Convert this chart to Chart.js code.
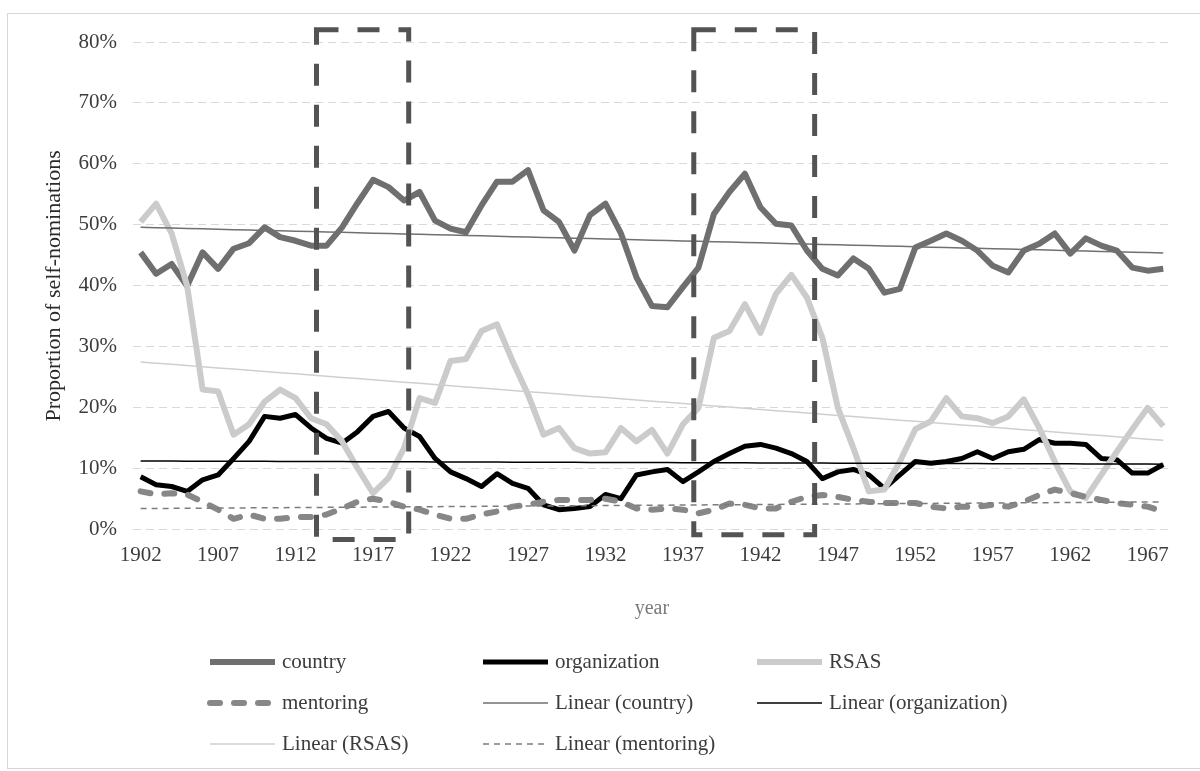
<!DOCTYPE html>
<html>
<head>
<meta charset="utf-8">
<title>Self-nominations by year</title>
<script src="https://cdn.jsdelivr.net/npm/chart.js@4.4.1/dist/chart.umd.min.js"></script>
<style>
    body { margin: 0; background: #fff; }
    #wrap { position: relative; width: 1200px; height: 771px; overflow: hidden; }
    #frame { position: absolute; left: 7px; top: 13px; width: 1210px; height: 754px; border: 1px solid #d6d6d6; }
    #chart { position: absolute; left: 0; top: 0; }
</style>
</head>
<body>
<div id="wrap">
    <div id="frame"></div>
    <canvas id="chart" width="1200" height="771"></canvas>
</div>
<script>
// years 1902 .. 1968
const years = [];
for (let y = 1902; y <= 1968; y++) years.push(String(y));

// share of self-nominations, in percent
const country = [
    45.5, 42.0, 43.6, 40.0, 45.5, 42.8, 46.1, 47.0, 49.6, 48.0,
    47.4, 46.6, 46.6, 49.6, 53.6, 57.4, 56.2, 54.0, 55.4, 50.7,
    49.4, 48.8, 53.2, 57.1, 57.1, 59.0, 52.4, 50.5, 45.8, 51.6,
    53.5, 48.6, 41.4, 36.7, 36.5, 39.8, 43.0, 51.8, 55.4, 58.4,
    52.9, 50.2, 49.9, 45.8, 42.8, 41.7, 44.5, 42.8, 38.9, 39.5,
    46.3, 47.4, 48.6, 47.4, 45.8, 43.3, 42.2, 45.8, 46.9, 48.6,
    45.3, 47.8, 46.6, 45.8, 43.0, 42.5, 42.8
];
const organization = [
    8.7, 7.4, 7.1, 6.3, 8.2, 9.0, 11.7, 14.5, 18.6, 18.3,
    18.9, 16.7, 15.0, 14.2, 16.1, 18.6, 19.4, 16.7, 15.3, 11.7,
    9.5, 8.4, 7.1, 9.2, 7.6, 6.8, 4.1, 3.3, 3.5, 3.8,
    5.8, 5.1, 9.0, 9.5, 9.9, 7.9, 9.5, 11.2, 12.5, 13.7,
    14.0, 13.4, 12.5, 11.2, 8.4, 9.5, 9.9, 9.0, 6.8, 9.0,
    11.2, 10.9, 11.2, 11.7, 12.8, 11.7, 12.8, 13.2, 14.8, 14.2,
    14.2, 14.0, 11.7, 11.5, 9.3, 9.3, 10.7
];
const rsas = [
    50.5, 53.5, 48.6, 40.0, 23.0, 22.7, 15.6, 17.3, 21.0, 23.0,
    21.6, 18.3, 17.3, 14.5, 10.1, 6.0, 8.5, 13.4, 21.6, 20.8,
    27.7, 28.0, 32.6, 33.7, 27.7, 22.2, 15.6, 16.7, 13.4, 12.5,
    12.7, 16.7, 14.5, 16.4, 12.5, 17.3, 20.0, 31.5, 32.6, 37.0,
    32.3, 38.7, 41.8, 38.1, 31.5, 20.0, 13.4, 6.3, 6.6, 11.2,
    16.5, 17.8, 21.6, 18.6, 18.3, 17.5, 18.6, 21.4, 16.7, 11.2,
    6.3, 5.2, 9.0, 12.8, 16.5, 20.0, 17.0
];
const mentoring = [
    6.3, 5.8, 6.0, 5.8, 4.6, 3.3, 1.8, 2.5, 1.8, 1.8,
    2.1, 2.1, 2.5, 3.5, 4.6, 5.1, 4.6, 3.8, 3.3, 2.5,
    1.8, 1.8, 2.5, 3.0, 3.8, 4.1, 4.6, 4.9, 4.9, 4.9,
    5.1, 4.6, 3.5, 3.3, 3.5, 3.3, 2.7, 3.3, 4.3, 4.1,
    3.5, 3.5, 4.6, 5.4, 5.7, 5.4, 4.9, 4.6, 4.4, 4.4,
    4.4, 3.8, 3.5, 3.8, 3.8, 4.1, 3.8, 4.6, 5.7, 6.6,
    6.0, 5.4, 4.9, 4.4, 4.1, 3.8, 3.0
];
const yTicks = [0, 10, 20, 30, 40, 50, 60, 70, 80];

// periods marked with dashed boxes (first / last year, fractional)
const periods = [
    { from: 1913.35, to: 1919.3, bottom: -1.6, top: 82 },
    { from: 1937.7, to: 1945.5, bottom: -0.8, top: 82 }
];

// least squares fit over the year index
function linearTrend(values) {
    const n = values.length;
    let sx = 0, sy = 0, sxy = 0, sxx = 0;
    values.forEach((v, i) => { sx += i; sy += v; sxy += i * v; sxx += i * i; });
    const slope = (n * sxy - sx * sy) / (n * sxx - sx * sx);
    const icept = (sy - slope * sx) / n;
    return values.map((v, i) => icept + slope * i);
}

const serif = 'Liberation Serif, Times New Roman, serif';

const datasets = [
    { label: 'country', data: country, borderColor: '#6f6f6f', borderWidth: 6, order: 8 },
    { label: 'organization', data: organization, borderColor: '#000000', borderWidth: 5, order: 7 },
    { label: 'RSAS', data: rsas, borderColor: '#cbcbcb', borderWidth: 6, order: 6 },
    { label: 'mentoring', data: mentoring, borderColor: '#878787', borderWidth: 6,
      borderDash: [10, 14], borderCapStyle: 'round', order: 5 },
    { label: 'Linear (country)', data: linearTrend(country), borderColor: '#707070', borderWidth: 1.5, order: 4 },
    { label: 'Linear (organization)', data: linearTrend(organization), borderColor: '#000000', borderWidth: 1.5, order: 3 },
    { label: 'Linear (RSAS)', data: linearTrend(rsas), borderColor: '#cfcfcf', borderWidth: 1.5, order: 2 },
    { label: 'Linear (mentoring)', data: linearTrend(mentoring), borderColor: '#7c7c7c', borderWidth: 1.5,
      borderDash: [6, 5], order: 1 }
];
datasets.forEach(ds => { ds.pointRadius = 0; ds.fill = false; ds.tension = 0; ds.borderJoinStyle = 'round'; });

// dashed rectangles over the two periods
const periodBoxes = {
    id: 'periodBoxes',
    afterDatasetsDraw(chart) {
        const ctx = chart.ctx;
        const xs = chart.scales.x, ys = chart.scales.y;
        ctx.save();
        ctx.strokeStyle = '#535353';
        ctx.lineWidth = 5;
        ctx.setLineDash([22, 19]);
        periods.forEach(p => {
            const x1 = xs.getPixelForValue(p.from - 1902);
            const x2 = xs.getPixelForValue(p.to - 1902);
            const y1 = ys.getPixelForValue(p.top);
            const y2 = ys.getPixelForValue(p.bottom);
            ctx.strokeRect(x1, y1, x2 - x1, y2 - y1);
        });
        ctx.restore();
    }
};

// legend in three columns under the axis
const gridLegend = {
    id: 'gridLegend',
    afterDraw(chart) {
        const ctx = chart.ctx;
        const colX = [210, 483, 757];
        const rowY = [662, 703, 744];
        ctx.save();
        ctx.font = '21px ' + serif;
        ctx.textBaseline = 'middle';
        chart.data.datasets.forEach((ds, i) => {
            const x = colX[i % 3], y = rowY[Math.floor(i / 3)];
            ctx.beginPath();
            ctx.strokeStyle = ds.borderColor;
            ctx.lineWidth = ds.borderWidth;
            ctx.lineCap = ds.borderCapStyle || 'butt';
            ctx.setLineDash(ds.borderDash || []);
            ctx.moveTo(x, y);
            ctx.lineTo(x + 65, y);
            ctx.stroke();
            ctx.setLineDash([]);
            ctx.fillStyle = '#3c3c3c';
            ctx.fillText(ds.label, x + 72, y);
        });
        ctx.restore();
    }
};

new Chart(document.getElementById('chart'), {
    type: 'line',
    data: { labels: years, datasets: datasets },
    options: {
        responsive: false,
        animation: false,
        layout: { padding: { left: 41, right: 29, top: 42, bottom: 150 } },
        plugins: { legend: { display: false }, tooltip: { enabled: false } },
        scales: {
            x: {
                offset: true,
                grid: { display: false, drawTicks: false },
                border: { display: false },
                ticks: {
                    autoSkip: false, maxRotation: 0, padding: 13, color: '#3c3c3c',
                    font: { family: serif, size: 21 },
                    callback: (v, i) => (i % 5 === 0 ? years[i] : '')
                },
                title: {
                    display: true, text: 'year', color: '#7a7a7a',
                    font: { family: serif, size: 20 }, padding: { top: 16, bottom: 0 }
                }
            },
            y: {
                min: yTicks[0],
                max: yTicks[yTicks.length - 1],
                afterBuildTicks: axis => { axis.ticks = yTicks.map(v => ({ value: v })); },
                grid: { color: '#d9d9d9', lineWidth: 1, drawTicks: false },
                border: { display: false, dash: [8, 5] },
                ticks: {
                    padding: 16, color: '#3c3c3c',
                    font: { family: serif, size: 21 },
                    callback: v => v + '%'
                },
                title: {
                    display: true, text: 'Proportion of self-nominations', color: '#2a2a2a',
                    font: { family: serif, size: 22 }, padding: { top: 0, bottom: -5 }
                }
            }
        }
    },
    plugins: [periodBoxes, gridLegend]
});
</script>
</body>
</html>
